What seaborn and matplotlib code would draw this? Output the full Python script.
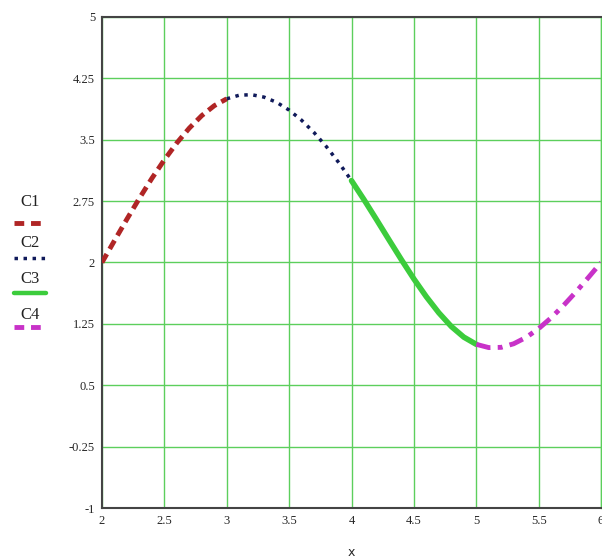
import numpy as np
import pandas as pd
import seaborn as sns
import matplotlib.pyplot as plt
from matplotlib.lines import Line2D

# values, step 0.1
x1 = [2.0, 2.1, 2.2, 2.3, 2.4, 2.5, 2.6, 2.7, 2.8, 2.9, 3.0]
y1 = [2.0, 2.267, 2.530, 2.785, 3.028, 3.254, 3.461, 3.642, 3.795, 3.916, 4.0]
x2 = [3.0, 3.1, 3.2, 3.3, 3.4, 3.5, 3.6, 3.7, 3.8, 3.9, 4.0]
y2 = [4.0, 4.044, 4.050, 4.020, 3.957, 3.862, 3.738, 3.587, 3.413, 3.216, 3.0]
x3 = [4.0, 4.1, 4.2, 4.3, 4.4, 4.5, 4.6, 4.7, 4.8, 4.9, 5.0]
y3 = [3.0, 2.768, 2.525, 2.278, 2.034, 1.799, 1.581, 1.385, 1.218, 1.088, 1.0]
x4 = [5.0, 5.1, 5.2, 5.3, 5.4, 5.5, 5.6, 5.7, 5.8, 5.9, 6.0]
y4 = [1.0, 0.960, 0.963, 1.007, 1.085, 1.192, 1.324, 1.476, 1.642, 1.819, 2.0]

names = ['C1', 'C2', 'C3', 'C4']
colors = ['#b02525', '#101a5a', '#3ccc3c', '#c832c8']
styles = [(0, (2.0, 1.2)), (0, (1, 1.6)), '-', (0, (3, 1.5, 1, 1.5))]
widths = [3.5, 2.5, 4.0, 3.5]

xticks = [2, 2.5, 3, 3.5, 4, 4.5, 5, 5.5, 6]
xlabels = ['2', '2.5', '3', '3.5', '4', '4.5', '5', '5.5', '6']
yticks = [-1, -0.25, 0.5, 1.25, 2, 2.75, 3.5, 4.25, 5]
ylabels = ['-1', '-0.25', '0.5', '1.25', '2', '2.75', '3.5', '4.25', '5']

sns.set_style('white')
plt.rcParams['font.family'] = ['Liberation Serif', 'DejaVu Serif']

fig = plt.figure(figsize=(6.02, 5.58), dpi=100)
ax = fig.add_axes([0.1694, 0.0896, 0.829, 0.88])

segs = [(x1, y1), (x2, y2), (x3, y3), (x4, y4)]
for (xs, ys), n, c, ls, lw in zip(segs, names, colors, styles, widths):
    df = pd.DataFrame({'x': xs, 'y': ys})
    sns.lineplot(data=df, x='x', y='y', ax=ax, color=c, linewidth=lw,
                 linestyle=ls, zorder=3, estimator=None, sort=False)

ax.set_xlim(2, 6)
ax.set_ylim(-1, 5)
ax.set_xticks(xticks)
ax.set_xticklabels(xlabels, fontsize=9)
ax.set_yticks(yticks)
ax.set_yticklabels(ylabels, fontsize=9)
ax.tick_params(length=0, pad=5)
ax.grid(True, color='#5ccf5c', linewidth=1.0)
ax.set_axisbelow(True)
ax.set_ylabel('')
ax.set_xlabel('x', fontsize=9, family='DejaVu Sans', labelpad=14)
for s in ['left', 'bottom', 'top']:
    ax.spines[s].set_color('#444444')
    ax.spines[s].set_linewidth(1.5)
ax.spines['right'].set_color('#5ccf5c')
ax.spines['right'].set_linewidth(1.0)

# legend drawn on the left, label above its line sample
lax = fig.add_axes([0.0, 0.0, 1.0, 1.0], facecolor='none')
lax.set_xlim(0, 602)
lax.set_ylim(558, 0)
lax.axis('off')
label_y = [202, 243, 279, 315]
line_y = [223, 258, 293, 327]
leg_styles = [(0, (2.0, 1.4)), (0, (1, 1.6)), '-', (0, (2.0, 1.4))]
leg_widths = [3.5, 2.5, 3.2, 3.5]
for n, c, ls, lw, ly, hy in zip(names, colors, leg_styles, leg_widths, label_y, line_y):
    lax.text(30, ly, n, ha='center', va='center', fontsize=12,
             color='#222222')
    lax.add_line(Line2D([14, 46], [hy, hy], color=c,
                        linestyle=ls, linewidth=lw))

fig.savefig('out.png', dpi=100)
